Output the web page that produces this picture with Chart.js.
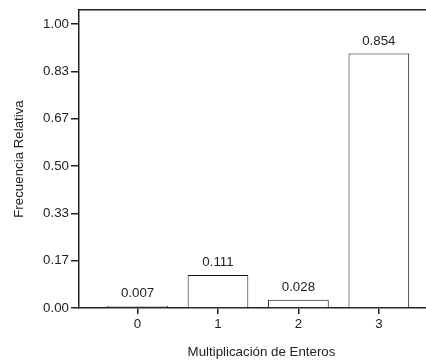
<!DOCTYPE html>
<html>
<head>
<meta charset="utf-8">
<script src="https://cdn.jsdelivr.net/npm/chart.js@4.4.1/dist/chart.umd.min.js"></script>
<style>
  html, body { margin: 0; padding: 0; background: #fff; overflow: hidden; }
  #wrap { width: 444px; height: 360px; }
</style>
</head>
<body>
<div id="wrap"><canvas id="chart" width="444" height="360"></canvas></div>
<script>
// categories on the x axis and their relative frequencies
var CATEGORIES = [0, 1, 2, 3];
var REL_FREQ = [0.007, 0.111, 0.028, 0.854];

// printed y tick labels; they sit at equal steps up to TICK_SPAN on a 0..1 scale
var Y_TICK_LABELS = ['0.00', '0.17', '0.33', '0.50', '0.67', '0.83', '1.00'];
var TICK_SPAN = 0.953;

var INK = '#222';
var FONT_SIZE = 13.3;
Chart.defaults.font.family = '"Liberation Sans", Arial, sans-serif';
Chart.defaults.color = INK;

/**
 * Draw the value above each bar.
 */
var valueLabels = {
  id: 'valueLabels',
  afterDatasetsDraw: function (chart) {
    var ctx = chart.ctx;
    var meta = chart.getDatasetMeta(0);
    ctx.save();
    ctx.font = FONT_SIZE + 'px "Liberation Sans", Arial, sans-serif';
    ctx.fillStyle = INK;
    ctx.textAlign = 'center';
    ctx.textBaseline = 'alphabetic';
    meta.data.forEach(function (bar, i) {
      ctx.fillText(REL_FREQ[i].toFixed(3), bar.x, bar.y - 9);
    });
    ctx.restore();
  },
};

var points = CATEGORIES.map(function (c, i) {
  return { x: c, y: REL_FREQ[i] };
});

new Chart(document.getElementById('chart'), {
  type: 'bar',
  data: {
    datasets: [{
      data: points,
      backgroundColor: '#fff',
      borderColor: '#111',
      borderWidth: 1,
      barPercentage: 0.754,
      categoryPercentage: 1,
    }],
  },
  options: {
    responsive: false,
    animation: false,
    layout: { padding: { top: 10, left: 0, right: 0, bottom: 0 } },
    plugins: {
      legend: { display: false },
      tooltip: { enabled: false },
    },
    scales: {
      x: {
        type: 'linear',
        position: 'bottom',
        min: -0.728,
        max: 3.81,
        offset: false,
        afterFit: function (scale) { scale.height = 52; },
        afterBuildTicks: function (scale) {
          scale.ticks = CATEGORIES.map(function (c) { return { value: c }; });
        },
        ticks: {
          font: { size: FONT_SIZE },
          padding: 2,
          callback: function (value) { return String(value); },
        },
        grid: { offset: false, drawOnChartArea: false, drawTicks: true, tickLength: 6, color: INK, lineWidth: 1.5 },
        border: { color: INK, width: 1.5 },
        title: {
          display: true,
          text: 'Multiplicación de Enteros',
          font: { size: FONT_SIZE },
          padding: { top: 0, bottom: 0 },
        },
      },
      x2: {
        type: 'linear',
        position: 'top',
        min: -0.728,
        max: 3.81,
        afterFit: function (scale) { scale.height = 0; },
        ticks: { display: false },
        grid: { drawOnChartArea: false, drawTicks: false },
        border: { color: INK, width: 1.5 },
      },
      y: {
        min: 0,
        max: 1,
        afterFit: function (scale) { scale.width = 79; },
        afterBuildTicks: function (scale) {
          scale.ticks = Y_TICK_LABELS.map(function (t, i) {
            return { value: i * TICK_SPAN / (Y_TICK_LABELS.length - 1) };
          });
        },
        ticks: {
          font: { size: FONT_SIZE },
          padding: 2,
          callback: function (value, index) { return Y_TICK_LABELS[index]; },
        },
        grid: { drawOnChartArea: false, drawTicks: true, tickLength: 8, color: INK, lineWidth: 1.5 },
        border: { color: INK, width: 1.5 },
        title: {
          display: true,
          text: 'Frecuencia Relativa',
          font: { size: FONT_SIZE },
          padding: { top: 11, bottom: 0 },
        },
      },
    },
  },
  plugins: [valueLabels],
});
</script>
</body>
</html>
